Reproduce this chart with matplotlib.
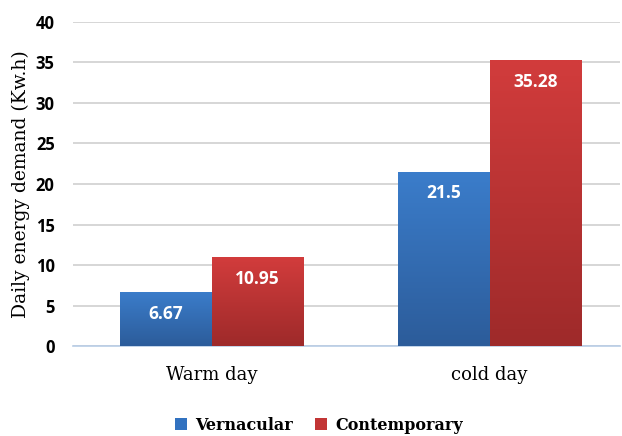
import numpy as np
import matplotlib
matplotlib.use("Agg")
import matplotlib.pyplot as plt
from matplotlib.colors import LinearSegmentedColormap
from matplotlib.patches import Patch

categories = ["Warm day", "cold day"]
vernacular = [6.67, 21.5]
contemporary = [10.95, 35.28]
value_labels_v = ["6.67", "21.5"]
value_labels_c = ["10.95", "35.28"]

fig = plt.figure(figsize=(6.22, 4.36), dpi=100)
ax = fig.add_axes([0.117, 0.206, 0.880, 0.744])

x = np.arange(len(categories))
w = 0.33

blue_cmap = LinearSegmentedColormap.from_list("b", ["#2c5c9a", "#3b7dcb"])
red_cmap = LinearSegmentedColormap.from_list("r", ["#9e2a2a", "#d23c3c"])
grad = np.linspace(0, 1, 256).reshape(-1, 1)


def gradient_bars(xs, vals, cmap):
    bars = ax.bar(xs, vals, width=w, color="none", zorder=3)
    for b in bars:
        x0, y0 = b.get_x(), b.get_y()
        im = ax.imshow(grad, cmap=cmap, origin="lower", aspect="auto",
                       extent=[x0, x0 + b.get_width(), y0, y0 + b.get_height()], zorder=3)
        im.set_clip_path(b)
    return bars


gradient_bars(x - w / 2, vernacular, blue_cmap)
gradient_bars(x + w / 2, contemporary, red_cmap)

for i in range(len(categories)):
    ax.text(x[i] - w / 2, vernacular[i] - 2.65, value_labels_v[i], ha="center", va="center",
            color="white", fontsize=12.5, fontweight="bold", family="Open Sans", zorder=4)
    ax.text(x[i] + w / 2, contemporary[i] - 2.65, value_labels_c[i], ha="center", va="center",
            color="white", fontsize=12.5, fontweight="bold", family="Open Sans", zorder=4)

ax.set_xlim(-0.5, 1.47)
ax.set_ylim(0, 40)
ax.set_yticks(range(0, 41, 5))
ax.set_xticks(x)
ax.set_xticklabels(categories, family="DejaVu Serif", fontsize=13)
for lbl in ax.get_yticklabels():
    lbl.set_family("Open Sans")
    lbl.set_fontweight("bold")
    lbl.set_fontsize(12)
ax.tick_params(length=0)
ax.tick_params(axis="y", pad=13)
ax.tick_params(axis="x", pad=14)

ax.grid(axis="y", color="#d0d0d0", linewidth=1.2, zorder=0)
ax.set_axisbelow(True)
for s in ["top", "right", "left"]:
    ax.spines[s].set_visible(False)
ax.spines["bottom"].set_color("#b8cde6")
ax.spines["bottom"].set_linewidth(1.2)

ax.set_ylabel("Daily energy demand (Kw.h)", family="DejaVu Serif", fontsize=13.5, labelpad=4)

handles = [Patch(facecolor="#3272c0", label="Vernacular"),
           Patch(facecolor="#c23535", label="Contemporary")]
fig.legend(handles=handles, loc="center", bbox_to_anchor=(0.513, 0.025), ncol=2, frameon=False,
           prop={"family": "DejaVu Serif", "weight": "bold", "size": 11.5},
           handlelength=0.75, handleheight=0.75, handletextpad=0.5, columnspacing=1.4)

fig.savefig("out.png", dpi=100)
